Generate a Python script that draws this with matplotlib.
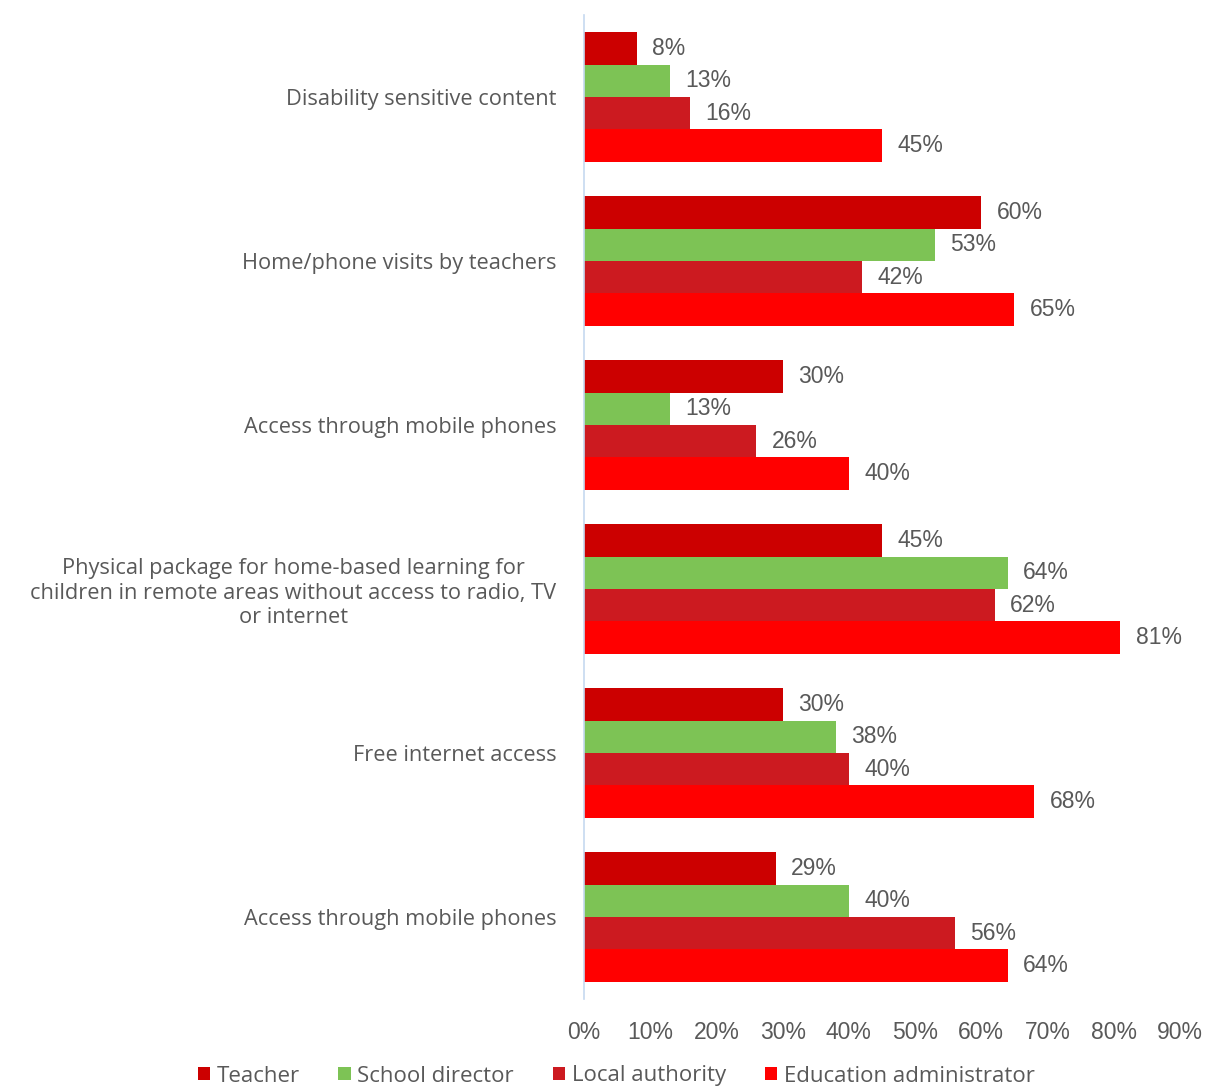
import numpy as np
import matplotlib.pyplot as plt
from matplotlib.patches import Patch

# Data
categories = [
    "Disability sensitive content",
    "Home/phone visits by teachers",
    "Access through mobile phones",
    "Physical package for home-based learning for\nchildren in remote areas without access to radio, TV\nor internet",
    "Free internet access",
    "Access through mobile phones",
]
series_names = ["Teacher", "School director", "Local authority", "Education administrator"]
teacher = [8, 60, 30, 45, 30, 29]
school_director = [13, 53, 13, 64, 38, 40]
local_authority = [16, 42, 26, 62, 40, 56]
education_admin = [45, 65, 40, 81, 68, 64]
x_ticks = [0, 10, 20, 30, 40, 50, 60, 70, 80, 90]

colors = ["#CC0000", "#7DC355", "#CC1A20", "#FF0000"]
text_gray = "#595959"

fig = plt.figure(figsize=(12.06, 10.88), dpi=100)
ax = fig.add_axes([584 / 1206, 1 - 999 / 1088, (1180 - 584) / 1206, (999 - 15) / 1088])

series = [teacher, school_director, local_authority, education_admin]
n = len(categories)
y = np.arange(n)
bar_h = 0.198

for i, (vals, col) in enumerate(zip(series, colors)):
    pos = y + (i - 1.5) * bar_h
    ax.barh(pos, vals, height=bar_h, color=col, linewidth=0)
    for p, v in zip(pos, vals):
        ax.text(v + 2.3, p, f"{v}%", va="center", ha="left",
                fontsize=16.5, color=text_gray, family="Liberation Sans")

ax.set_ylim(n - 0.5, -0.5)
ax.set_xlim(0, 90)
ax.set_yticks(y)
ax.set_yticklabels(categories, fontsize=15.7, color=text_gray, family="Open Sans",
                   multialignment="center")
ax.set_xticks(x_ticks)
ax.set_xticklabels([f"{t}%" for t in x_ticks], fontsize=16.5, color=text_gray,
                   family="Liberation Sans")
ax.tick_params(axis="both", length=0)
ax.tick_params(axis="y", pad=20)
ax.tick_params(axis="x", pad=16)

for s in ["top", "right", "bottom"]:
    ax.spines[s].set_visible(False)
ax.spines["left"].set_color("#C6D9F0")
ax.spines["left"].set_linewidth(1.2)

handles = [Patch(facecolor=c, edgecolor="none", label=l) for c, l in zip(colors, series_names)]
fig.legend(handles=handles, loc="center", bbox_to_anchor=(616 / 1206, 1 - 1076 / 1088),
           ncol=4, frameon=False, handlelength=0.55, handleheight=0.55, handletextpad=0.3,
           columnspacing=1.75, prop={"family": "Open Sans", "size": 16},
           labelcolor=text_gray, borderpad=0.2)

fig.savefig("out.png", dpi=100)
